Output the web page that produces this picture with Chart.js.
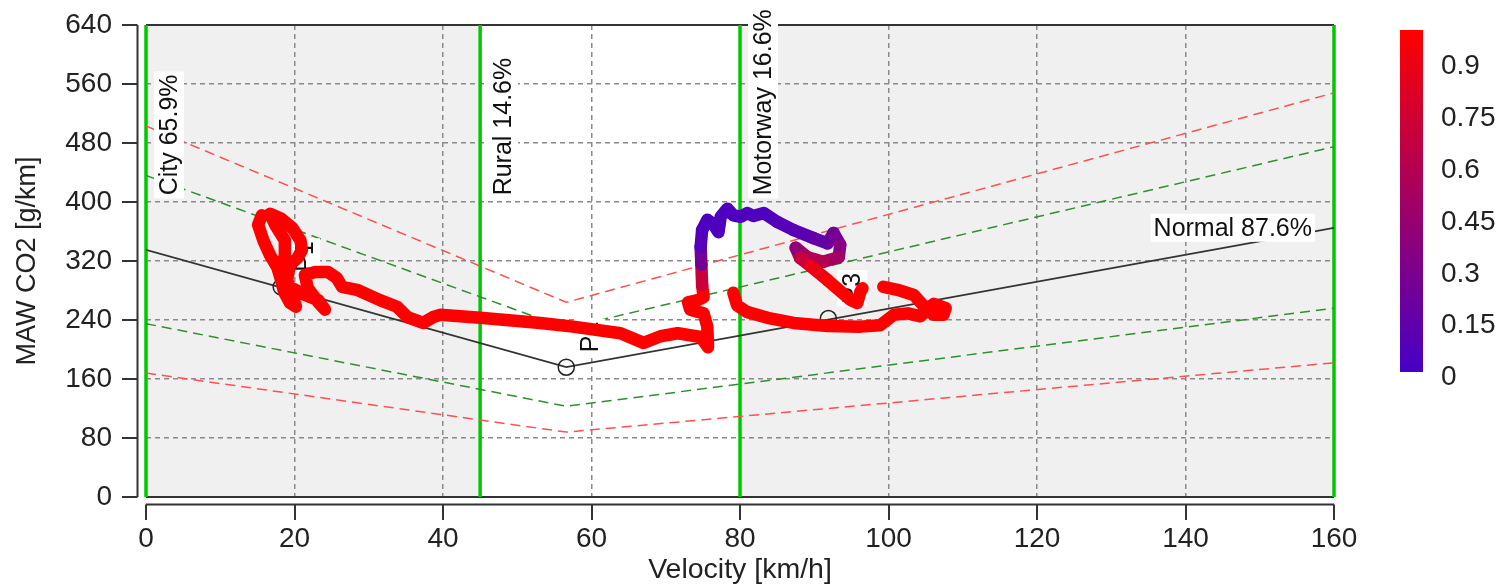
<!DOCTYPE html>
<html lang="en">
<head>
    <meta charset="UTF-8">
    <title>MAW CO2 vs Velocity</title>
    <script src="https://cdn.jsdelivr.net/npm/chart.js"></script>
    <style>
        * { margin: 0; padding: 0; box-sizing: border-box; }
        body { background: #fff; width: 1503px; height: 587px; overflow: hidden; }
        canvas { display: block; }
    </style>
</head>
<body>
    <canvas id="mawChart" width="1503" height="587"></canvas>

    <script>
        const FONT = '"Liberation Sans", Arial, sans-serif';

        // axis ticks
        const xTicks = [0, 20, 40, 60, 80, 100, 120, 140, 160];
        const yTicks = [0, 80, 160, 240, 320, 400, 480, 560, 640];
        const cbTicks = [0, 0.15, 0.3, 0.45, 0.6, 0.75, 0.9];

        // trip zones
        const zoneEdges = [0, 45, 80, 160];
        const zoneNames = ['City 65.9%', 'Rural 14.6%', 'Motorway 16.6%'];

        // MAW reference curve (velocity, CO2) and its tolerance bands
        const curveX = [0, 56.6, 160];
        const normalY = [335, 176, 365];
        const upper30Y = [436, 229, 475];
        const lower30Y = [235, 123, 256];
        const upper50Y = [503, 264, 548];
        const lower50Y = [168, 88, 182];

        // characteristic points P1..P3
        const pNames = ['P1', 'P2', 'P3'];
        const pX = [18.2, 56.6, 91.9];
        const pY = [285, 176, 242];

        // moving-average windows: velocity, CO2, severity (null = break)
        const trajX = [15.6, 15.1, 15.8, 16.7, 17.7, 18.2, 18.6, 19.4, 20.2, 19.7, 19.0, 19.4, 20.4, 21.0, 20.8, 19.7, 18.1, 16.7, 17.4, 18.7,
            18.7, 18.3, 18.8, 20.1, 21.4, 23.2, 24.1, 23.2, 21.8, 21.4, 22.8, 24.5, 25.7, 26.4, 28.4, 31.5, 33.8, 35.2, 37.3, 38.7,
            39.6, 45.0, 53.1, 57.5, 63.9, 67.0, 69.3, 71.6, 74.7, 75.7, 75.6, 75.1, 73.3, 73.0, 74.3, 75.1, 74.9, 74.8, 74.7, 74.9,
            75.6, 76.4, 77.1, 77.4, 78.3, 79.1, 80.1, 81.0, 81.8, 83.2, 85.0, 87.2, 89.9, 91.8, 92.6, 93.5, 93.3, 91.2, 89.1, 87.5,
            88.1, 89.5, 91.8, 94.9, 95.8, 96.2, 96.5, null,
            79.1, 79.6, 80.9, 83.7, 87.2, 91.8, 96.2, 98.9, 100.7, 102.6, 104.3, 106.1, 107.7, 107.4, 106.1, 105.0, 103.4, 101.2, 99.3];
        const trajY = [382, 369, 348, 328, 311, 294, 278, 263, 258, 274, 294, 315, 324, 335, 348, 365, 378, 384, 369, 348,
            328, 311, 287, 281, 274, 267, 254, 264, 283, 301, 305, 305, 297, 285, 281, 267, 258, 244, 236, 244,
            247, 243, 236, 231, 222, 209, 218, 222, 217, 203, 231, 249, 254, 264, 267, 271, 287, 315, 339, 362,
            376, 370, 359, 380, 391, 382, 380, 385, 381, 385, 373, 362, 351, 344, 358, 342, 325, 319, 325, 338,
            324, 313, 294, 267, 263, 278, 283, null,
            277, 260, 251, 243, 236, 232, 231, 233, 247, 249, 245, 262, 256, 247, 247, 256, 274, 281, 285];
        const trajC = [1, 1, 1, 1, 1, 1, 1, 1, 1, 1, 1, 1, 1, 1, 1, 1, 1, 1, 1, 1,
            1, 1, 1, 1, 1, 1, 1, 1, 1, 1, 1, 1, 1, 1, 1, 1, 1, 1, 1, 1,
            1, 1, 1, 1, 1, 1, 1, 1, 1, 1, 1, 1, 1, 1, 1, 1, 0.7, 0.25, 0.08, 0.05,
            0.05, 0.05, 0.05, 0.05, 0.05, 0.05, 0.05, 0.05, 0.05, 0.05, 0.08, 0.1, 0.15, 0.2, 0.25, 0.35, 0.5, 0.6, 0.55, 0.4,
            0.7, 0.9, 1, 1, 1, 1, 1, null,
            1, 1, 1, 1, 1, 1, 1, 1, 1, 1, 1, 1, 1, 1, 1, 1, 1, 1, 1];

        function colorFor(v) {
            if (v === null || v === undefined) v = 1;
            const r = Math.round(70 + 185 * v);
            const b = Math.round(200 * (1 - v));
            return `rgb(${r},0,${b})`;
        }

        function pts(xs, ys) {
            return xs.map((x, i) => ({ x: x, y: ys[i] }));
        }

        function rotLabel(ctx, text, px, pyBottom, box) {
            ctx.save();
            ctx.translate(px, pyBottom);
            ctx.rotate(-Math.PI / 2);
            ctx.font = `25px ${FONT}`;
            const w = ctx.measureText(text).width;
            if (box) {
                ctx.fillStyle = '#fff';
                ctx.fillRect(-3, -15, w + 6, 30);
            }
            ctx.fillStyle = '#111';
            ctx.textAlign = 'left';
            ctx.textBaseline = 'middle';
            ctx.fillText(text, 0, 1);
            ctx.restore();
        }

        const decor = {
            id: 'decor',
            beforeDraw(chart) {
                const { ctx, chartArea: a, scales: { x } } = chart;
                ctx.save();
                for (let i = 0; i < zoneNames.length; i++) {
                    const l = x.getPixelForValue(zoneEdges[i]);
                    const r = x.getPixelForValue(zoneEdges[i + 1]);
                    ctx.fillStyle = i === 1 ? '#ffffff' : '#f0f0f0';
                    ctx.fillRect(l, a.top, r - l, a.bottom - a.top);
                }
                ctx.restore();
            },
            beforeDatasetsDraw(chart) {
                const { ctx, chartArea: a } = chart;
                ctx.save();
                ctx.strokeStyle = '#333';
                ctx.lineWidth = 2;
                ctx.beginPath();
                ctx.moveTo(a.left, a.top);
                ctx.lineTo(a.right, a.top);
                ctx.moveTo(a.left, a.bottom);
                ctx.lineTo(a.right, a.bottom);
                ctx.stroke();
                ctx.restore();
            },
            beforeDatasetDraw(chart, args) {
                if (args.index !== 0) return;
                const { ctx, scales: { x, y } } = chart;
                // zone labels
                for (let i = 0; i < zoneNames.length; i++) {
                    rotLabel(ctx, zoneNames[i], x.getPixelForValue(zoneEdges[i]) + 23, y.getPixelForValue(409), true);
                }
                // point labels
                for (let i = 0; i < pNames.length; i++) {
                    rotLabel(ctx, pNames[i], x.getPixelForValue(pX[i]) + 24, y.getPixelForValue(pY[i]) - 15, true);
                }
                // normal curve label
                ctx.save();
                ctx.font = `25px ${FONT}`;
                const txt = 'Normal 87.6%';
                const w = ctx.measureText(txt).width;
                const lx = x.getPixelForValue(135.7);
                const ly = y.getPixelForValue(365);
                ctx.fillStyle = '#fff';
                ctx.fillRect(lx - 3, ly - 14, w + 6, 28);
                ctx.fillStyle = '#111';
                ctx.textBaseline = 'middle';
                ctx.fillText(txt, lx, ly + 1);
                ctx.restore();
            },
            afterDraw(chart) {
                const { ctx, scales: { x, y } } = chart;
                ctx.save();
                ctx.strokeStyle = '#333';
                ctx.lineWidth = 2;
                ctx.beginPath();
                // detached y axis
                ctx.moveTo(137.5, y.getPixelForValue(640));
                ctx.lineTo(137.5, y.getPixelForValue(0));
                yTicks.forEach(v => {
                    const py = Math.round(y.getPixelForValue(v));
                    ctx.moveTo(122, py);
                    ctx.lineTo(137.5, py);
                });
                // detached x axis
                ctx.moveTo(x.getPixelForValue(0), 504.5);
                ctx.lineTo(x.getPixelForValue(160), 504.5);
                xTicks.forEach(v => {
                    const px = Math.round(x.getPixelForValue(v));
                    ctx.moveTo(px, 504.5);
                    ctx.lineTo(px, 520);
                });
                ctx.stroke();

                // colour bar
                const top = 30, bot = 372, left = 1400, wid = 23;
                const g = ctx.createLinearGradient(0, bot, 0, top);
                g.addColorStop(0, colorFor(0));
                g.addColorStop(1, colorFor(1));
                ctx.fillStyle = g;
                ctx.fillRect(left, top, wid, bot - top);
                ctx.font = `28px ${FONT}`;
                ctx.fillStyle = '#222';
                ctx.textAlign = 'left';
                ctx.textBaseline = 'middle';
                cbTicks.forEach(v => {
                    ctx.fillText(String(v), 1441, 377.5 - v * 345.5);
                });
                ctx.restore();
            }
        };

        const dashLine = (ys, color) => ({
            type: 'line',
            data: pts(curveX, ys),
            borderColor: color,
            borderWidth: 1.5,
            borderDash: [10, 6],
            pointRadius: 0,
            tension: 0
        });

        const zoneLine = v => ({
            type: 'line',
            data: [{ x: v, y: 0 }, { x: v, y: 640 }],
            borderColor: '#00c800',
            borderWidth: 3.5,
            borderDash: [],
            pointRadius: 0,
            clip: false
        });

        const ctx = document.getElementById('mawChart').getContext('2d');
        new Chart(ctx, {
            type: 'line',
            data: {
                datasets: [
                    {
                        data: pts(trajX, trajY),
                        borderColor: '#ff0000',
                        borderWidth: 12.5,
                        borderCapStyle: 'round',
                        borderJoinStyle: 'round',
                        pointRadius: 0,
                        spanGaps: false,
                        tension: 0,
                        segment: {
                            borderColor: c => colorFor(trajC[c.p0DataIndex])
                        }
                    },
                    {
                        type: 'scatter',
                        data: pts(pX, pY),
                        pointRadius: 8,
                        borderColor: '#222',
                        borderWidth: 1.5,
                        backgroundColor: 'rgba(0,0,0,0)'
                    },
                    {
                        data: pts(curveX, normalY),
                        borderColor: '#333',
                        borderWidth: 1.8,
                        pointRadius: 0,
                        tension: 0
                    },
                    dashLine(upper30Y, '#2f8f2f'),
                    dashLine(lower30Y, '#2f8f2f'),
                    dashLine(upper50Y, '#ff5050'),
                    dashLine(lower50Y, '#ff5050'),
                    ...zoneEdges.map(zoneLine)
                ]
            },
            options: {
                responsive: false,
                animation: false,
                devicePixelRatio: 1,
                layout: { padding: { top: 25, right: 169, left: 0, bottom: 0 } },
                plugins: {
                    legend: { display: false },
                    tooltip: { enabled: false }
                },
                scales: {
                    x: {
                        type: 'linear',
                        min: 0,
                        max: 160,
                        afterBuildTicks: s => { s.ticks = xTicks.map(v => ({ value: v })); },
                        afterFit: s => { s.height = 90; s.paddingLeft = 0; s.paddingRight = 0; },
                        grid: { color: '#8a8a8a', lineWidth: 1.5, drawTicks: false },
                        border: { display: false, dash: [5, 4] },
                        ticks: { padding: 25, color: '#222', font: { family: FONT, size: 28 } },
                        title: { display: true, text: 'Velocity [km/h]', color: '#222', padding: { top: 0, bottom: 0 }, font: { family: FONT, size: 28.5 } }
                    },
                    y: {
                        type: 'linear',
                        min: 0,
                        max: 640,
                        afterBuildTicks: s => { s.ticks = yTicks.map(v => ({ value: v })); },
                        afterFit: s => { s.width = 146; s.paddingTop = 0; s.paddingBottom = 0; },
                        grid: { color: '#8a8a8a', lineWidth: 1.5, drawTicks: false },
                        border: { display: false, dash: [5, 4] },
                        ticks: { padding: 34, color: '#222', font: { family: FONT, size: 28 } },
                        title: { display: true, text: 'MAW CO2 [g/km]', color: '#222', padding: { top: 11, bottom: 0 }, font: { family: FONT, size: 27 } }
                    }
                }
            },
            plugins: [decor]
        });
    </script>
</body>
</html>
